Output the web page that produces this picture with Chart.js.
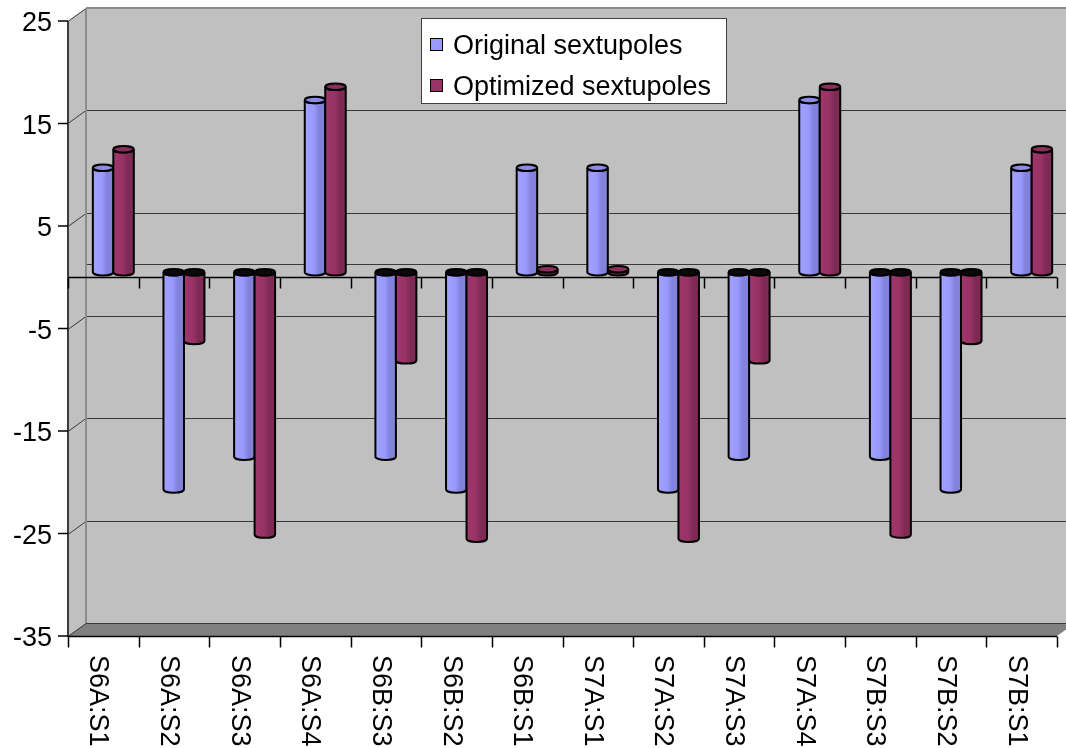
<!DOCTYPE html>
<html>
<head>
<meta charset="utf-8">
<script src="https://cdn.jsdelivr.net/npm/chart.js@4/dist/chart.umd.min.js"></script>
<style>
  html, body { margin: 0; padding: 0; background: #ffffff; }
  canvas { display: block; }
</style>
</head>
<body>
<canvas id="chart" width="1066" height="748"></canvas>
<script>
// Sextupole strengths per magnet, before and after optimisation
const categories = ['S6A:S1', 'S6A:S2', 'S6A:S3', 'S6A:S4', 'S6B:S3', 'S6B:S2', 'S6B:S1',
                    'S7A:S1', 'S7A:S2', 'S7A:S3', 'S7A:S4', 'S7B:S3', 'S7B:S2', 'S7B:S1'];
const originalValues  = [10.2, -21.2, -18.0, 16.8, -18.0, -21.2, 10.2, 10.2, -21.2, -18.0, 16.8, -18.0, -21.2, 10.2];
const optimizedValues = [12.0, -6.7, -25.6, 18.1, -8.6, -26.0, 0.3, 0.3, -26.0, -8.6, 18.1, -25.6, -6.7, 12.0];
const yTicks = [-35, -25, -15, -5, 5, 15, 25];
const seriesNames = ['Original sextupoles', 'Optimized sextupoles'];

const FONT = '27px "Liberation Sans", Arial, sans-serif';
const BACK = { dx: 18, dy: -13 };   // offset of the back wall
const MID  = { dx: 10, dy: -5 };    // depth at which the columns stand

const SHADES = [
  { light: '#a2a2ff', base: '#9999ff', dark: '#8282da', cap: '#8c8ce4', negCap: '#0a0a0a' },
  { light: '#9e376b', base: '#993366', dark: '#7f2a55', cap: '#8a2e5c', negCap: '#0a0a0a' }
];

function poly(ctx, pts) {
  ctx.beginPath();
  ctx.moveTo(pts[0][0], pts[0][1]);
  for (let i = 1; i < pts.length; i++) ctx.lineTo(pts[i][0], pts[i][1]);
  ctx.closePath();
}

function line(ctx, x1, y1, x2, y2) {
  ctx.beginPath();
  ctx.moveTo(x1, y1);
  ctx.lineTo(x2, y2);
  ctx.stroke();
}

function drawCylinder(ctx, el, shade) {
  const half = el.width / 2, cx = el.x;
  const top = Math.min(el.y, el.base), bot = Math.max(el.y, el.base);
  const ry = 3.2;
  const g = ctx.createLinearGradient(cx - half, 0, cx + half, 0);
  g.addColorStop(0, shade.light);
  g.addColorStop(0.45, shade.base);
  g.addColorStop(0.7, shade.dark);
  g.addColorStop(1, shade.dark);
  ctx.beginPath();
  ctx.moveTo(cx - half, top);
  ctx.lineTo(cx - half, bot);
  ctx.ellipse(cx, bot, half, ry, 0, Math.PI, 0, true);
  ctx.lineTo(cx + half, top);
  ctx.ellipse(cx, top, half, ry, 0, 0, Math.PI, false);
  ctx.closePath();
  ctx.fillStyle = g;
  ctx.fill();
  ctx.lineWidth = 2;
  ctx.strokeStyle = '#000';
  ctx.stroke();
  // end cap facing the viewer from above
  ctx.beginPath();
  ctx.ellipse(cx, top, half, ry, 0, 0, Math.PI * 2);
  ctx.fillStyle = el.y < el.base ? shade.cap : shade.negCap;
  ctx.fill();
  ctx.stroke();
}

const depthPlugin = {
  id: 'depth',
  beforeDatasetsDraw(chart) {
    const { ctx, chartArea: a, scales: { x, y } } = chart;
    const L = a.left, R = a.right;
    const T = y.getPixelForValue(y.max), B = y.getPixelForValue(y.min);
    const step = x.getPixelForValue(1) - x.getPixelForValue(0);
    ctx.save();

    // back wall, side wall and floor
    ctx.fillStyle = '#c0c0c0';
    ctx.fillRect(L + BACK.dx, T + BACK.dy, chart.width, B - T);
    poly(ctx, [[L, T], [L + BACK.dx, T + BACK.dy], [L + BACK.dx, B + BACK.dy], [L, B]]);
    ctx.fill();
    ctx.fillStyle = '#808080';
    poly(ctx, [[L, B], [L + BACK.dx, B + BACK.dy], [R + BACK.dx, B + BACK.dy], [R, B]]);
    ctx.fill();

    // grid lines across side and back walls
    ctx.lineWidth = 1;
    ctx.strokeStyle = '#3a3a3a';
    yTicks.forEach(v => {
      const yf = Math.round(y.getPixelForValue(v)) + 0.5;
      const yb = yf + BACK.dy;
      ctx.beginPath();
      ctx.moveTo(L, yf);
      ctx.lineTo(L + BACK.dx, yb);
      ctx.lineTo(chart.width, yb);
      ctx.stroke();
    });
    // top edge of the back wall
    ctx.strokeStyle = '#8a8a8a';
    ctx.lineWidth = 2;
    line(ctx, L + BACK.dx, T + BACK.dy, chart.width, T + BACK.dy);
    // back edge of the zero plane
    ctx.strokeStyle = '#3a3a3a';
    ctx.lineWidth = 1;
    const y0 = Math.round(y.getPixelForValue(0)) + 0.5;
    line(ctx, L + BACK.dx, y0 + BACK.dy, chart.width, y0 + BACK.dy);
    // corner between side wall and back wall
    ctx.strokeStyle = '#8c8c8c';
    ctx.lineWidth = 2;
    line(ctx, L + BACK.dx, T + BACK.dy, L + BACK.dx, B + BACK.dy);

    // value axis
    ctx.strokeStyle = '#3c3c3c';
    ctx.lineWidth = 2;
    line(ctx, L, T, L, B + 1);
    ctx.lineWidth = 1.5;
    ctx.strokeStyle = '#000';
    yTicks.forEach(v => {
      const yy = y.getPixelForValue(v);
      line(ctx, L - 10, yy, L, yy);
    });

    // category axis at zero and along the floor
    [[y0, 11], [B + 0.5, 11]].forEach(([yy, len]) => {
      ctx.strokeStyle = '#000';
      ctx.lineWidth = 1.5;
      line(ctx, L, yy, R, yy);
      for (let i = 0; i <= categories.length; i++) {
        const xx = Math.round(x.getPixelForValue(i) - step / 2) + 0.5;
        line(ctx, xx, yy, xx, yy + len);
      }
    });
    ctx.restore();

    ctx.save();
    ctx.translate(MID.dx, MID.dy);
  },
  afterDatasetsDraw(chart) {
    const { ctx, scales: { x, y } } = chart;
    chart.data.datasets.forEach((ds, di) => {
      const meta = chart.getDatasetMeta(di);
      meta.data.forEach(el => drawCylinder(ctx, el, SHADES[di]));
    });
    ctx.restore();

    ctx.save();
    ctx.fillStyle = '#000';
    ctx.font = FONT;

    // value labels
    ctx.textAlign = 'right';
    ctx.textBaseline = 'alphabetic';
    yTicks.forEach(v => {
      ctx.fillText(String(v), chart.chartArea.left - 16, y.getPixelForValue(v) + 10);
    });

    // category labels, turned to read downward
    ctx.textAlign = 'left';
    categories.forEach((c, i) => {
      ctx.save();
      ctx.translate(x.getPixelForValue(i) - 13, 655);
      ctx.rotate(Math.PI / 2);
      ctx.fillText(c, 0, 0);
      ctx.restore();
    });

    // legend
    ctx.fillStyle = '#ffffff';
    ctx.fillRect(421, 18, 305, 85);
    ctx.strokeStyle = '#404040';
    ctx.lineWidth = 1;
    ctx.strokeRect(421.5, 18.5, 305, 85);
    chart.data.datasets.forEach((ds, di) => {
      const cy = 44 + di * 41;
      ctx.fillStyle = ds.backgroundColor;
      ctx.fillRect(430, cy - 6, 13, 13);
      ctx.strokeStyle = '#000';
      ctx.strokeRect(430.5, cy - 5.5, 12, 12);
      ctx.fillStyle = '#000';
      ctx.fillText(ds.label, 453, cy + 9.5);
    });
    ctx.restore();
  }
};

new Chart(document.getElementById('chart'), {
  type: 'bar',
  data: {
    labels: categories,
    datasets: [
      { label: seriesNames[0], data: originalValues, backgroundColor: '#9999ff', borderColor: '#000', borderWidth: 0 },
      { label: seriesNames[1], data: optimizedValues, backgroundColor: '#993366', borderColor: '#000', borderWidth: 0 }
    ]
  },
  options: {
    responsive: false,
    animation: false,
    devicePixelRatio: 1,
    layout: { padding: { left: 68, right: 9, top: 21, bottom: 112 } },
    datasets: { bar: { categoryPercentage: 0.58, barPercentage: 1.0 } },
    scales: {
      x: { display: false },
      y: { display: false, min: -35, max: 25 }
    },
    plugins: { legend: { display: false }, tooltip: { enabled: false } }
  },
  plugins: [depthPlugin]
});
</script>
</body>
</html>
